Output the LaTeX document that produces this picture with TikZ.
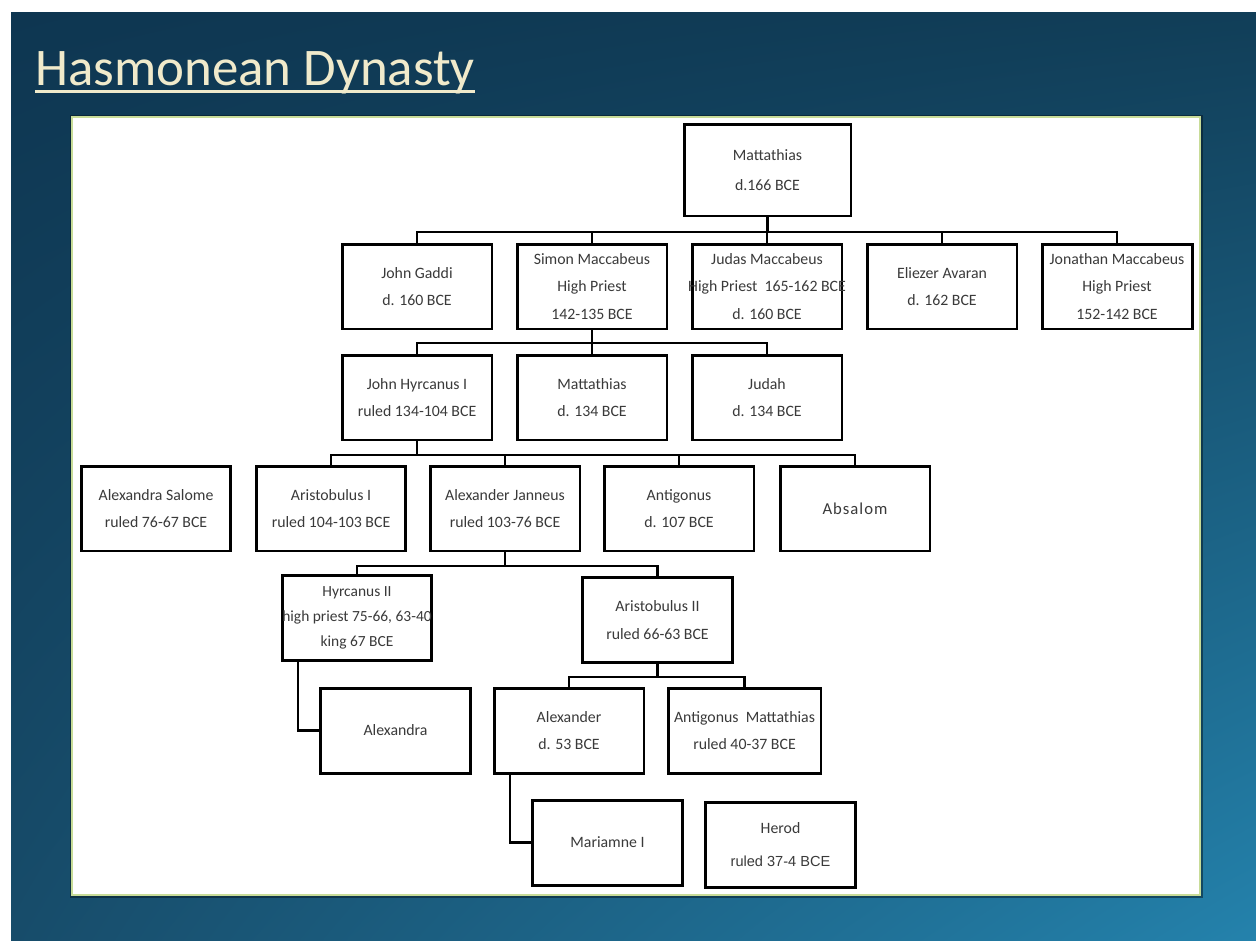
\documentclass[tikz,border=0pt]{standalone}
\usepackage{fontspec}
\setmainfont{Carlito}
\newfontfamily\arialfont{Liberation Sans}
\usetikzlibrary{shadings}
\definecolor{bgTL}{HTML}{0E3651}
\definecolor{bgTR}{HTML}{113E58}
\definecolor{bgBL}{HTML}{174C6A}
\definecolor{bgBR}{HTML}{2482AC}
\definecolor{titlecol}{HTML}{F0EACB}
\definecolor{paneledge}{HTML}{C8DC98}
\definecolor{txt}{HTML}{3A3A3A}
\tikzset{
  person/.style={draw=black, line width=1.7pt, fill=white, minimum width=3cm, minimum height=1.7cm,
    align=center, inner sep=0pt, text=txt, font=\fontsize{9}{15.8}\selectfont},
  link/.style={draw=black, line width=1.4pt},
}
\begin{document}
\begin{tikzpicture}[x=0.02cm, y=-0.02cm]
\useasboundingbox (0,0) rectangle (1256,940);
\fill[white] (0,0) rectangle (1256,940);
\shade[upper left=bgTL, upper right=bgTR, lower left=bgBL, lower right=bgBR] (11,12) rectangle (1256,940);
% panel
\fill[black!60!bgTL, opacity=0.5] (70,115) rectangle (1203,898);
\filldraw[fill=white, draw=paneledge, line width=1.2pt] (72,117) rectangle (1200,895);
% title
\node[anchor=base west, inner sep=0pt, text=titlecol, font=\fontsize{30.1}{31}\selectfont] (title) at (35,85) {Hasmonean Dynasty};
\draw[titlecol, line width=1.3pt] ([yshift=-0.13cm]title.base west) -- ([yshift=-0.13cm]title.base east);

% generation 1
\node[person, minimum width=3.34cm, minimum height=1.84cm, font=\fontsize{9}{17.5}\selectfont] (mat) at (767.5,170) {Mattathias\\d.166 BCE};
% generation 2
\node[person] (gaddi) at (417,286.5) {John Gaddi\\d. 160 BCE};
\node[person] (simon) at (592,286.5) {Simon Maccabeus\\High Priest\\142-135 BCE};
\node[person] (judas) at (767,286.5) {Judas Maccabeus\\\makebox[2.9cm]{High Priest\ \ 165-162 BCE}\\d. 160 BCE};
\node[person] (eliezer) at (942,286.5) {Eliezer Avaran\\d. 162 BCE};
\node[person] (jonathan) at (1117,286.5) {Jonathan Maccabeus\\High Priest\\152-142 BCE};
% generation 3
\node[person] (hyrc1) at (417,397.5) {John Hyrcanus I\\ruled 134-104 BCE};
\node[person] (matt2) at (592,397.5) {Mattathias\\d. 134 BCE};
\node[person] (judah) at (767,397.5) {Judah\\d. 134 BCE};
% generation 4
\node[person] (salome) at (156,508.5) {Alexandra Salome\\ruled 76-67 BCE};
\node[person] (arist1) at (331,508.5) {Aristobulus I\\ruled 104-103 BCE};
\node[person] (janneus) at (505,508.5) {Alexander Janneus\\ruled 103-76 BCE};
\node[person] (antig) at (679,508.5) {Antigonus\\d. 107 BCE};
\node[person, font=\fontsize{9.5}{15}\selectfont\addfontfeature{LetterSpace=6}] (absalom) at (855,508.5) {Absalom};
% generation 5
\node[person, font=\fontsize{8.8}{14.2}\selectfont] (hyrc2) at (357,618) {Hyrcanus II\\\makebox[2.9cm]{high priest 75-66, 63-40}\\king 67 BCE};
\node[person] (arist2) at (657.5,620) {Aristobulus II\\ruled 66-63 BCE};
% generation 6
\node[person] (alexandra) at (395.5,730.5) {Alexandra};
\node[person] (alexander) at (569,730.5) {Alexander\\d. 53 BCE};
\node[person, minimum width=3.06cm] (antmat) at (744.5,730.5) {\makebox[2.9cm]{Antigonus\ \ Mattathias}\\ruled 40-37 BCE};
% generation 7
\node[person] (mariamne) at (607.5,842.5) {Mariamne I};
\node[person] (herod) at (780.5,844.5) {Herod\\[3pt]{\arialfont\fontsize{8.3}{12}\selectfont ruled 37-4 BCE}};

% bus coordinates
\coordinate (b1) at (767.5,232);
\coordinate (b2) at (592,343);
\coordinate (b3) at (417,455);
\coordinate (b4) at (505,566);
\coordinate (b5) at (657.5,677);

% Mattathias -> sons
\draw[link] (mat.south) -- (b1);
\draw[link] (gaddi.north) |- (b1);
\draw[link] (jonathan.north) |- (b1);
\draw[link] (simon.north) -- (simon.north |- b1);
\draw[link] (judas.north) -- (judas.north |- b1);
\draw[link] (eliezer.north) -- (eliezer.north |- b1);
% Simon -> sons
\draw[link] (simon.south) -- (b2);
\draw[link] (hyrc1.north) |- (b2);
\draw[link] (judah.north) |- (b2);
\draw[link] (matt2.north) -- (matt2.north |- b2);
% John Hyrcanus I -> sons
\draw[link] (hyrc1.south) -- (b3);
\draw[link] (arist1.north) |- (b3);
\draw[link] (absalom.north) |- (b3);
\draw[link] (janneus.north) -- (janneus.north |- b3);
\draw[link] (antig.north) -- (antig.north |- b3);
% Alexander Janneus -> sons
\draw[link] (janneus.south) -- (b4);
\draw[link] (hyrc2.north) |- (b4);
\draw[link] (arist2.north) |- (b4);
% Hyrcanus II -> Alexandra
\draw[link] ([xshift=-1.18cm]hyrc2.south) |- (alexandra.west);
% Aristobulus II -> sons
\draw[link] (arist2.south) -- (b5);
\draw[link] (alexander.north) |- (b5);
\draw[link] (antmat.north) |- (b5);
% Alexander -> Mariamne I
\draw[link] ([xshift=-1.18cm]alexander.south) |- (mariamne.west);
\end{tikzpicture}
\end{document}
